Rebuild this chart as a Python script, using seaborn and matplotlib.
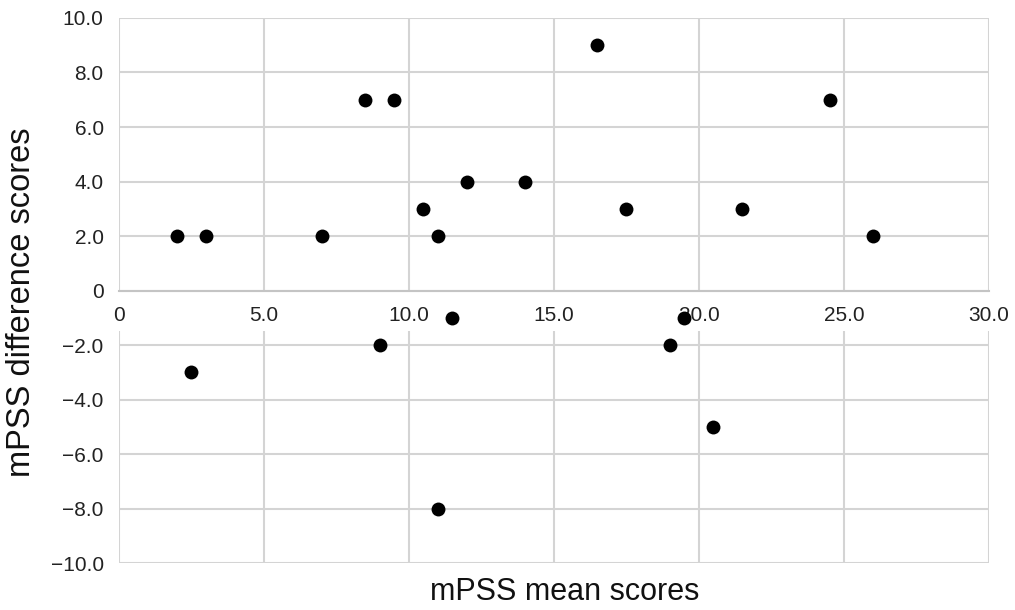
import matplotlib
matplotlib.use("Agg")
import matplotlib.pyplot as plt
import seaborn as sns
import pandas as pd

# ---- data ----
mean_scores = [2.0, 3.0, 7.0, 8.5, 9.5, 10.5, 11.0, 12.0, 14.0, 16.5, 17.5, 21.5, 24.5, 26.0,
               2.5, 9.0, 11.5, 19.5, 19.0, 20.5, 11.0]
diff_scores = [2, 2, 2, 7, 7, 3, 2, 4, 4, 9, 3, 3, 7, 2,
               -3, -2, -1, -1, -2, -5, -8]

x_ticks = [0, 5, 10, 15, 20, 25, 30]
x_tick_labels = ["0", "5.0", "10.0", "15.0", "20.0", "25.0", "30.0"]
y_ticks = [10, 8, 6, 4, 2, 0, -2, -4, -6, -8, -10]
y_tick_labels = ["10.0", "8.0", "6.0", "4.0", "2.0", "0", "\u22122.0", "\u22124.0",
                 "\u22126.0", "\u22128.0", "\u221210.0"]

x_label = "mPSS mean scores"
y_label = "mPSS difference scores"

df = pd.DataFrame({"mean": mean_scores, "diff": diff_scores})

sns.set_style("whitegrid")
plt.rcParams["font.family"] = ["Liberation Sans", "DejaVu Sans"]

fig = plt.figure(figsize=(10.15, 6.1), dpi=100)
ax = fig.add_axes([0.1172, 0.077, 0.8572, 0.8935])

grid_color = "#d4d4d4"
ax.set_axisbelow(True)
ax.grid(True, axis="y", color=grid_color, linewidth=1.5)
ax.grid(False, axis="x")

ax.set_xlim(0, 30)
ax.set_ylim(-10, 10)

# vertical gridlines, interrupted by the band that carries the x tick labels
band_low = -1.47
ax.vlines(x_ticks, 0, 10, colors=grid_color, linewidth=1.5, zorder=0.6)
ax.vlines(x_ticks, -10, band_low, colors=grid_color, linewidth=1.5, zorder=0.6)

sns.scatterplot(data=df, x="mean", y="diff", color="black", s=100,
                edgecolor="black", linewidth=0, ax=ax, zorder=3)

ax.set_xlim(0, 30)
ax.set_ylim(-10, 10)
ax.set_xticks(x_ticks)
ax.set_xticklabels(x_tick_labels)
ax.set_yticks(y_ticks)
ax.set_yticklabels(y_tick_labels)

for side in ["top", "right", "left"]:
    ax.spines[side].set_visible(False)
ax.spines["bottom"].set_position(("data", 0))
ax.spines["bottom"].set_color("#c4c4c4")
ax.spines["bottom"].set_linewidth(1.5)
ax.spines["bottom"].set_zorder(0.7)

ax.tick_params(axis="both", length=0, labelsize=15, labelcolor="#222222")
ax.tick_params(axis="x", pad=11)
ax.tick_params(axis="y", pad=11)

ax.set_xlabel("")
ax.set_ylabel("")
fig.text(0.556, 0.005, x_label, ha="center", va="bottom", fontsize=22, color="#111111")
fig.text(0.006, 0.505, y_label, ha="left", va="center", rotation=90, fontsize=23.5,
         color="#111111")

fig.savefig("out.png", dpi=100, facecolor="white")
